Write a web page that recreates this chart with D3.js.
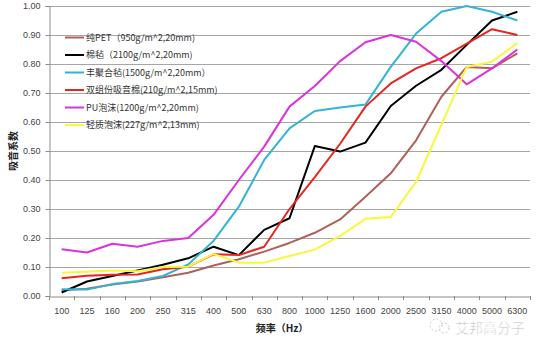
<!DOCTYPE html>
<html><head><meta charset="utf-8">
<script src="https://cdn.jsdelivr.net/npm/d3@7"></script>
<style>
html,body{margin:0;padding:0;background:#fff;}
svg{display:block;font-family:"Noto Sans CJK SC","DejaVu Sans",sans-serif;}
</style></head>
<body><svg id="c" width="536" height="344"></svg>
<script>
const categories = ["100","125","160","200","250","315","400","500","630","800","1000","1250","1600","2000","2500","3150","4000","5000","6300"];
const yTicks = [0,0.1,0.2,0.3,0.4,0.5,0.6,0.7,0.8,0.9,1.0];
const seriesNames = ["纯PET（950g/m^2,20mm)","棉毡（2100g/m^2,20mm)","丰聚合毡(1500g/m^2,20mm）","双组份吸音棉(210g/m^2,15mm)","PU泡沫(1200g/m^2,20mm)","轻质泡沫(227g/m^2,13mm)"];
const seriesColors = ["#b0605a","#000000","#33b4d4","#e52620","#dc32dc","#f8f83a"];
const petValues    = [0.02,0.025,0.04,0.05,0.065,0.08,0.105,0.127,0.153,0.183,0.218,0.264,0.342,0.423,0.537,0.687,0.79,0.785,0.837];
const feltValues   = [0.012,0.05,0.069,0.088,0.108,0.13,0.17,0.141,0.228,0.268,0.517,0.498,0.529,0.655,0.725,0.78,0.866,0.95,0.98];
const polyValues   = [0.023,0.022,0.041,0.052,0.069,0.109,0.19,0.308,0.469,0.578,0.638,0.65,0.66,0.79,0.905,0.98,1.0,0.98,0.95];
const biValues     = [0.061,0.07,0.073,0.074,0.092,0.101,0.144,0.141,0.17,0.30,0.41,0.525,0.653,0.733,0.785,0.82,0.87,0.92,0.90];
const puValues     = [0.161,0.15,0.18,0.17,0.19,0.20,0.28,0.40,0.515,0.653,0.724,0.81,0.875,0.90,0.877,0.81,0.73,0.785,0.85];
const lightValues  = [0.08,0.084,0.088,0.085,0.1,0.101,0.145,0.115,0.115,0.138,0.16,0.207,0.266,0.272,0.394,0.59,0.79,0.808,0.872];
const allValues = [petValues,feltValues,polyValues,biValues,puValues,lightValues];

const svg = d3.select("#c");
const L=49,R=530,T=6,B=296;
const x = d3.scaleBand().domain(categories).range([L,R]).padding(0);
const y = d3.scaleLinear().domain([0,1]).range([B,T]);

// gridlines
svg.append("g").selectAll("line").data(yTicks.filter(d=>d>0)).join("line")
  .attr("x1",L).attr("x2",R).attr("y1",d=>y(d)+0.5).attr("y2",d=>y(d)+0.5)
  .attr("stroke","#a6a6a6").attr("stroke-width",1);

// y axis
const ya = svg.append("g").attr("transform",`translate(${L+0.5},0)`)
  .call(d3.axisLeft(y).tickValues(yTicks).tickFormat(d3.format(".2f")).tickSize(4).tickPadding(5));
ya.select(".domain").attr("stroke","#8c8c8c");
ya.selectAll(".tick line").attr("stroke","#8c8c8c");
ya.selectAll("text").attr("font-size",9).attr("fill","#444");

// x axis
const xa = svg.append("g").attr("transform",`translate(0,${B+0.5})`)
  .call(d3.axisBottom(x).tickSize(0).tickPadding(11));
xa.select(".domain").attr("stroke","#8c8c8c");
xa.selectAll("text").attr("font-size",9).attr("fill","#444");
svg.append("g").selectAll("line").data(d3.range(categories.length+1)).join("line")
  .attr("x1",i=>Math.round(L+i*x.bandwidth())+0.5).attr("x2",i=>Math.round(L+i*x.bandwidth())+0.5)
  .attr("y1",B).attr("y2",B+4).attr("stroke","#8c8c8c");

// lines
const line = d3.line().x((d,i)=>x(categories[i])+x.bandwidth()/2).y(d=>y(d));
allValues.forEach((vals,k)=>{
  svg.append("path").datum(vals).attr("d",line).attr("fill","none")
    .attr("stroke",seriesColors[k]).attr("stroke-width",2).attr("stroke-linejoin","round");
});

// legend
const lg = svg.append("g");
seriesNames.forEach((n,k)=>{
  const yy = 37.5 + k*17.5;
  lg.append("line").attr("x1",65).attr("x2",84).attr("y1",yy).attr("y2",yy)
    .attr("stroke",seriesColors[k]).attr("stroke-width",2);
  lg.append("text").attr("x",86).attr("y",yy).attr("dy","0.35em")
    .attr("font-size",9).attr("fill","#333").text(n);
});

// axis titles
svg.append("text").attr("transform","translate(13,151) rotate(-90)").attr("text-anchor","middle")
  .attr("dy","0.35em").attr("font-size",10).attr("font-weight","bold").attr("fill","#222").text("吸音系数");
svg.append("text").attr("x",282).attr("y",332).attr("text-anchor","middle")
  .attr("font-size",10).attr("font-weight","bold").attr("fill","#222").text("频率（Hz）");

// watermark
const wm = svg.append("g").attr("opacity",0.75);
wm.append("circle").attr("cx",436).attr("cy",325).attr("r",6).attr("fill","none").attr("stroke","#bbb").attr("stroke-dasharray","2,2");
wm.append("circle").attr("cx",444).attr("cy",328).attr("r",5).attr("fill","none").attr("stroke","#bbb").attr("stroke-dasharray","2,2");
wm.append("text").attr("x",455).attr("y",333).attr("font-size",14).attr("fill","#888")
  .attr("stroke","#fff").attr("stroke-width",0.6).text("艾邦高分子");
</script></body></html>
